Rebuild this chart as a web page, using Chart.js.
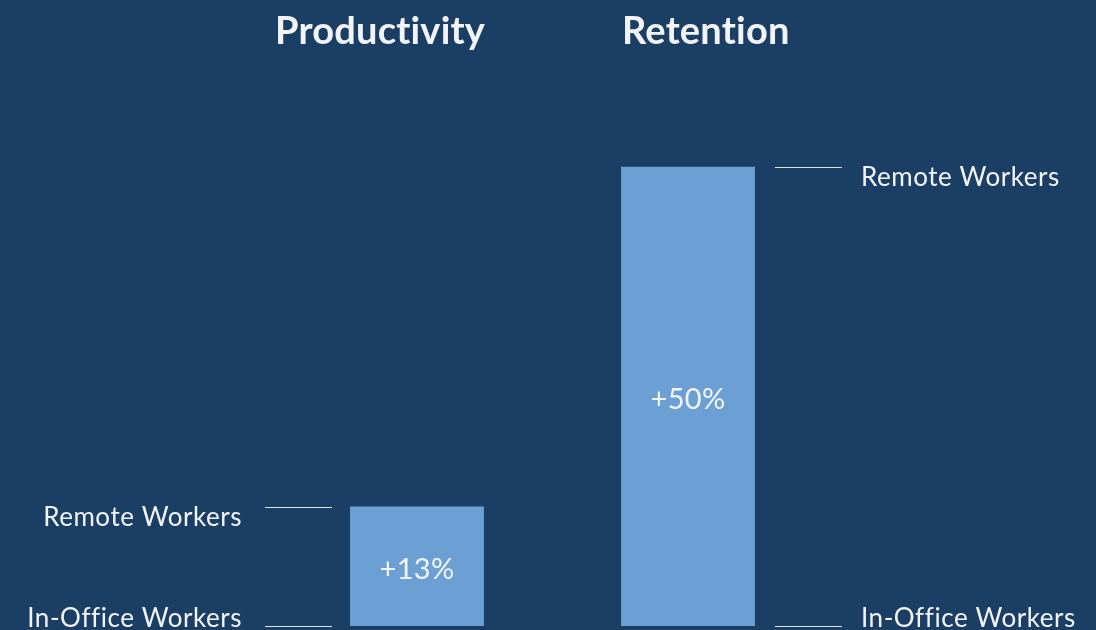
<!DOCTYPE html>
<html lang="en">

<head>
    <meta charset="UTF-8">
    <title>Remote Work Impact</title>
    <script src="https://cdn.jsdelivr.net/npm/chart.js"></script>
    <style>
        * {
            margin: 0;
            padding: 0;
            box-sizing: border-box;
        }

        body {
            background-color: #1b3f64;
            overflow: hidden;
        }

        .chart-container {
            position: relative;
            width: 1096px;
            height: 630px;
        }
    </style>
</head>

<body>
    <div class="chart-container">
        <canvas id="impactChart"></canvas>
    </div>

    <script>
        // Data: gain of remote workers over in-office workers (in %)
        const categories = ['Productivity', 'Retention'];
        const gains = [13, 50];
        const valueLabels = ['+13%', '+50%'];
        const topLabel = 'Remote Workers';
        const baseLabel = 'In-Office Workers';

        const FONT = 'Lato, "Open Sans", sans-serif';
        const TEXT = '#f2f4f7';

        // Titles sit at fixed positions above the plot
        const titleX = [275, 622];

        // Draws titles, value labels and the side callouts for each bar
        const annotations = {
            id: 'annotations',
            afterDatasetsDraw(chart) {
                const ctx = chart.ctx;
                const y = chart.scales.y;
                const meta = chart.getDatasetMeta(0);
                const y0 = y.getPixelForValue(0);

                ctx.save();
                ctx.fillStyle = TEXT;

                // titles
                ctx.font = `bold 38px ${FONT}`;
                ctx.letterSpacing = '0.2px';
                ctx.textAlign = 'left';
                ctx.textBaseline = 'alphabetic';
                categories.forEach((c, i) => ctx.fillText(c, titleX[i], 44));

                meta.data.forEach((bar, i) => {
                    const half = bar.width / 2;
                    const left = bar.x - half;
                    const right = bar.x + half;
                    const yTop = y.getPixelForValue(gains[i]);

                    // value label in the middle of the bar
                    ctx.font = `29px ${FONT}`;
                    ctx.letterSpacing = '0.3px';
                    ctx.textAlign = 'center';
                    ctx.textBaseline = 'middle';
                    ctx.fillText(valueLabels[i], bar.x, (yTop + y0) / 2 + 3);

                    // callout lines and labels, left of the first bar, right of the second
                    let x1, x2, tx, align;
                    if (i === 0) {
                        x1 = left - 85; x2 = left - 18; tx = x1 - 23; align = 'right';
                    } else {
                        x1 = right + 20; x2 = right + 87; tx = x2 + 19; align = 'left';
                    }
                    ctx.strokeStyle = 'rgba(255,255,255,0.85)';
                    ctx.lineWidth = 1;
                    [yTop, y0].forEach(py => {
                        ctx.beginPath();
                        ctx.moveTo(x1, Math.round(py) + 0.5);
                        ctx.lineTo(x2, Math.round(py) + 0.5);
                        ctx.stroke();
                    });

                    ctx.font = `26px ${FONT}`;
                    ctx.letterSpacing = '0.55px';
                    ctx.textAlign = align;
                    ctx.textBaseline = 'alphabetic';
                    ctx.fillText(topLabel, tx, yTop + 19);
                    ctx.fillText(baseLabel, tx, y0 + 1);
                });
                ctx.restore();
            }
        };

        const ctx = document.getElementById('impactChart').getContext('2d');
        new Chart(ctx, {
            type: 'bar',
            data: {
                labels: categories,
                datasets: [{
                    data: gains,
                    backgroundColor: '#6ca0d5',
                    borderWidth: 0,
                    barPercentage: 1,
                    categoryPercentage: 0.494
                }]
            },
            options: {
                responsive: true,
                maintainAspectRatio: false,
                animation: false,
                layout: {
                    padding: { left: 281.5, right: 272.5, top: 75, bottom: 4 }
                },
                plugins: {
                    legend: { display: false },
                    tooltip: { enabled: false }
                },
                scales: {
                    x: { display: false },
                    y: { display: false, min: 0, max: 60 }
                }
            },
            plugins: [annotations]
        });
    </script>
</body>

</html>
